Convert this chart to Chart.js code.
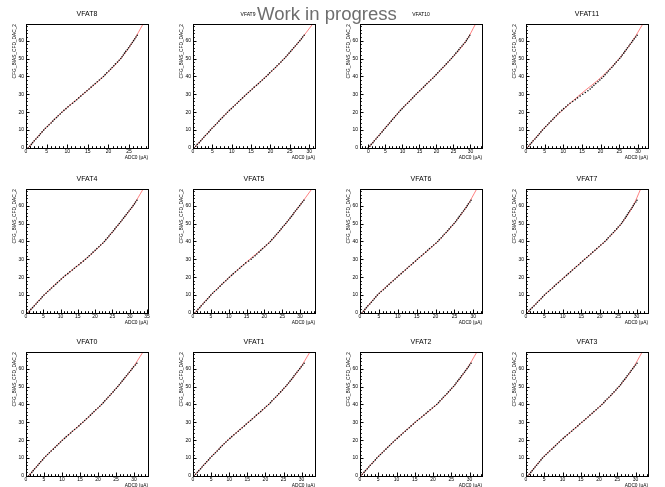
<!DOCTYPE html>
<html>
<head>
<meta charset="utf-8">
<script src="https://cdn.jsdelivr.net/npm/chart.js@4.4.1/dist/chart.umd.min.js"></script>
<style>
  body { margin: 0; background: #fff; width: 665px; height: 487px; position: relative; overflow: hidden; }
  canvas.pad { position: absolute; }
  #wip { position: absolute; left: 257px; top: 0; white-space: nowrap;
         font-family: "Liberation Sans", Arial, sans-serif; font-size: 18px; line-height: 1;
         color: #6e6e6e; z-index: 2; }
</style>
</head>
<body>
<span id="wip">Work in progress</span>
<script>
// DAC code scanned on each VFAT (y axis)
const dacCodes = [0,1,2,3,4,5,6,7,8,9,10,11,12,13,14,15,16,17,18,19,20,21,22,23,24,25,26,27,28,29,30,31,
  32,33,34,35,36,37,38,39,40,41,42,43,44,45,46,47,48,49,50,51,52,53,54,55,56,57,58,59,60,61,62,63];

// measured ADC0 current (uA) for each DAC code
const adcVfat0 = [0.7,1.1,1.6,2.0,2.4,2.9,3.3,3.7,4.1,4.6, 5.0,5.5,6.0,6.5,7.0,7.6,8.1,8.6,9.1,9.6,
  10.1,10.7,11.2,11.8,12.4,12.9,13.5,14.1,14.7,15.2, 15.8,16.3,16.8,17.4,17.9,18.4,18.9,19.4,20.0,20.5,
  21.0,21.5,21.9,22.4,22.8,23.3,23.7,24.2,24.6,25.1, 25.5,25.9,26.3,26.7,27.1,27.5,27.9,28.3,28.7,29.1, 29.5,29.9,30.4,30.8];
const adcVfat1 = [0.3,0.7,1.2,1.6,2.1,2.5,2.9,3.4,3.8,4.3, 4.7,5.2,5.7,6.2,6.7,7.2,7.6,8.1,8.6,9.1,
  9.6,10.2,10.7,11.3,11.9,12.5,13.0,13.6,14.2,14.7, 15.3,15.9,16.4,17.0,17.5,18.1,18.7,19.2,19.8,20.3,
  20.9,21.4,21.8,22.3,22.8,23.3,23.7,24.2,24.7,25.1, 25.6,26.0,26.4,26.8,27.2,27.6,27.9,28.3,28.7,29.1, 29.5,29.9,30.3,30.7];
const adcVfat2 = [0.2,0.6,1.1,1.5,2.0,2.4,2.8,3.3,3.7,4.2, 4.6,5.1,5.6,6.1,6.6,7.1,7.6,8.1,8.6,9.1,
  9.6,10.2,10.7,11.3,11.8,12.4,12.9,13.5,14.0,14.6, 15.1,15.7,16.3,16.9,17.5,18.1,18.6,19.2,19.8,20.4,
  21.0,21.5,21.9,22.4,22.8,23.3,23.8,24.2,24.7,25.1, 25.6,26.0,26.3,26.7,27.1,27.5,27.8,28.2,28.6,28.9, 29.3,29.7,30.0,30.4];
const adcVfat3 = [0.5,0.9,1.3,1.7,2.1,2.5,2.9,3.3,3.7,4.1, 4.5,5.0,5.5,6.0,6.5,7.1,7.6,8.1,8.6,9.1,
  9.6,10.2,10.7,11.3,11.9,12.5,13.0,13.6,14.2,14.7, 15.3,15.9,16.4,17.0,17.5,18.1,18.6,19.2,19.7,20.3,
  20.8,21.3,21.7,22.2,22.7,23.2,23.6,24.1,24.6,25.0, 25.5,25.9,26.2,26.6,27.0,27.4,27.7,28.1,28.5,28.8, 29.2,29.6,30.0,30.4];
const adcVfat4 = [0.5,1.0,1.4,1.9,2.4,2.9,3.3,3.8,4.3,4.7, 5.2,5.8,6.3,6.9,7.4,8.0,8.6,9.1,9.7,10.2,
  10.8,11.4,12.1,12.7,13.4,14.0,14.6,15.3,15.9,16.6, 17.2,17.8,18.3,18.9,19.4,20.0,20.5,21.1,21.6,22.2,
  22.7,23.1,23.6,24.0,24.4,24.9,25.3,25.7,26.1,26.6, 27.0,27.4,27.8,28.2,28.6,29.0,29.4,29.8,30.2,30.6, 31.0,31.4,31.7,32.1];
const adcVfat5 = [0.5,1.0,1.4,1.9,2.3,2.8,3.2,3.7,4.1,4.6, 5.0,5.5,6.0,6.6,7.1,7.6,8.1,8.6,9.2,9.7,
  10.2,10.8,11.3,11.9,12.5,13.1,13.6,14.2,14.8,15.6, 16.3,16.8,17.4,17.9,18.5,19.0,19.5,20.1,20.6,21.2,
  21.7,22.1,22.6,23.0,23.4,23.9,24.3,24.7,25.1,25.6, 26.0,26.4,26.8,27.2,27.6,28.0,28.3,28.7,29.1,29.5, 29.9,30.3,30.7,31.1];
const adcVfat6 = [0.5,0.9,1.3,1.7,2.1,2.6,3.0,3.4,3.8,4.2, 4.6,5.1,5.6,6.2,6.7,7.2,7.7,8.2,8.8,9.3,
  9.8,10.3,10.9,11.4,12.0,12.5,13.0,13.6,14.1,14.7, 15.2,15.7,16.3,16.8,17.4,17.9,18.4,19.0,19.5,20.1,
  20.6,21.0,21.5,21.9,22.3,22.8,23.2,23.6,24.0,24.5, 24.9,25.3,25.6,26.0,26.3,26.7,27.0,27.4,27.7,28.1, 28.4,28.7,29.1,29.4];
const adcVfat7 = [0.3,0.8,1.2,1.7,2.2,2.7,3.1,3.6,4.1,4.5, 5.0,5.5,6.1,6.6,7.2,7.7,8.2,8.8,9.3,9.9,
  10.4,11.0,11.5,12.1,12.6,13.2,13.7,14.3,14.8,15.4, 15.9,16.5,17.0,17.6,18.1,18.7,19.2,19.8,20.3,20.9,
  21.4,21.9,22.3,22.8,23.2,23.7,24.1,24.6,25.0,25.5, 25.9,26.2,26.5,26.9,27.2,27.5,27.8,28.1,28.5,28.8, 29.1,29.4,29.8,30.1];
const adcVfat8 = [0.5,0.9,1.3,1.6,2.0,2.4,2.8,3.2,3.5,3.9, 4.3,4.7,5.2,5.6,6.1,6.5,6.9,7.4,7.8,8.3,
  8.7,9.2,9.7,10.2,10.7,11.3,11.8,12.3,12.8,13.3, 13.8,14.3,14.8,15.3,15.8,16.3,16.8,17.3,17.8,18.3,
  18.8,19.2,19.6,20.1,20.5,20.9,21.3,21.7,22.2,22.6, 23.0,23.3,23.6,23.9,24.2,24.6,24.9,25.2,25.5,25.8, 26.1,26.4,26.7,27.0];
const adcVfat9 = [0.3,0.7,1.1,1.6,2.0,2.4,2.8,3.2,3.7,4.1, 4.5,4.9,5.4,5.8,6.3,6.7,7.1,7.6,8.0,8.5,
  8.9,9.4,9.9,10.4,10.9,11.4,11.8,12.3,12.8,13.3, 13.8,14.3,14.8,15.3,15.8,16.4,16.9,17.4,17.9,18.4,
  18.9,19.4,19.8,20.3,20.8,21.3,21.7,22.2,22.7,23.1, 23.6,24.0,24.4,24.8,25.2,25.6,26.0,26.4,26.8,27.2, 27.6,28.0,28.3,28.7];
const adcVfat10 = [-0.1,0.4,0.8,1.3,1.7,2.2,2.6,3.1,3.5,4.0, 4.4,4.9,5.3,5.8,6.2,6.7,7.1,7.6,8.0,8.5,
  8.9,9.4,9.9,10.4,10.9,11.5,12.0,12.5,13.0,13.5, 14.0,14.5,15.1,15.6,16.2,16.7,17.2,17.8,18.3,18.9,
  19.4,19.9,20.4,20.9,21.4,21.9,22.4,22.9,23.4,23.9, 24.4,24.8,25.3,25.7,26.2,26.6,27.0,27.5,27.9,28.4, 28.8,29.1,29.5,29.8];
const adcVfat11 = [0.3,0.7,1.1,1.5,1.9,2.4,2.8,3.2,3.6,4.0, 4.4,4.9,5.3,5.8,6.2,6.7,7.2,7.6,8.1,8.5,
  9.0,9.6,10.1,10.7,11.2,11.8,12.5,13.2,13.8,14.5, 15.2,15.9,16.6,17.2,17.7,18.2,18.7,19.3,19.8,20.3,
  20.8,21.2,21.7,22.1,22.5,23.0,23.4,23.8,24.2,24.7, 25.1,25.5,25.8,26.2,26.5,26.9,27.2,27.6,27.9,28.3, 28.6,29.0,29.4,29.8];

// fitted curve, read at these DAC values
const fitDac = [0, 10, 20, 30, 40, 50, 60, 69.3];
const fitVfat0 = [0.7, 5.0, 10.1, 15.8, 21.0, 25.5, 29.5, 32.5];
const fitVfat1 = [0.3, 4.7, 9.6, 15.3, 20.9, 25.6, 29.5, 32.3];
const fitVfat2 = [0.2, 4.6, 9.6, 15.1, 21.0, 25.6, 29.3, 32.0];
const fitVfat3 = [0.5, 4.5, 9.6, 15.3, 20.8, 25.5, 29.2, 31.8];
const fitVfat4 = [0.5, 5.2, 10.8, 17.2, 22.7, 27.0, 31.0, 33.9];
const fitVfat5 = [0.5, 5.0, 10.2, 15.9, 21.7, 26.0, 29.9, 33.3];
const fitVfat6 = [0.5, 4.6, 9.8, 15.2, 20.6, 24.9, 28.4, 30.9];
const fitVfat7 = [0.3, 5.0, 10.4, 15.9, 21.4, 25.9, 29.1, 31.1];
const fitVfat8 = [0.5, 4.3, 8.7, 13.8, 18.8, 23.0, 26.1, 28.4];
const fitVfat9 = [0.3, 4.5, 8.9, 13.8, 18.9, 23.6, 27.6, 30.9];
const fitVfat10 = [-0.1, 4.4, 8.9, 14.0, 19.4, 24.4, 28.8, 31.5];
const fitVfat11 = [0.3, 4.4, 9.2, 14.6, 20.4, 25.0, 28.6, 31.3];

// axis ranges per VFAT
const xMinByVfat = [0, 0, 0, 0, 0, 0, 0, 0, 0, 0, -2.5, 0];
const xMaxByVfat = [33.9, 33.7, 33.4, 33.4, 35.3, 34.2, 32.3, 33.1, 29.6, 31.5, 33.4, 32.7];
const yMax = 69.3;

const adcByVfat = [adcVfat0, adcVfat1, adcVfat2, adcVfat3, adcVfat4, adcVfat5,
  adcVfat6, adcVfat7, adcVfat8, adcVfat9, adcVfat10, adcVfat11];
const fitByVfat = [fitVfat0, fitVfat1, fitVfat2, fitVfat3, fitVfat4, fitVfat5,
  fitVfat6, fitVfat7, fitVfat8, fitVfat9, fitVfat10, fitVfat11];

// canvas layout: 4 columns x 3 rows, like the ROOT canvas
const gridOrder = [8, 9, 10, 11, 4, 5, 6, 7, 0, 1, 2, 3];
const frameLefts = [26, 193, 360, 526];
const frameTops = [24, 189, 352];
const FONT = '"Liberation Sans", Arial, sans-serif';

// the two titles squeezed by the "Work in progress" label are drawn smaller in the original
const smallTitle = { 9: { size: 5, shift: -6 }, 10: { size: 5, shift: 0 } };

// ROOT style frame + inward tick marks (major and minor)
const rootFrame = {
  id: 'rootFrame',
  afterLayout(chart) {
    const t = smallTitle[chart.options.vfat];
    if (t && chart.titleBlock) {
      chart.titleBlock.left += t.shift;
      chart.titleBlock.right += t.shift;
    }
  },
  afterDatasetsDraw(chart) {
    const { ctx, chartArea: a, scales: { x, y } } = chart;
    ctx.save();
    ctx.strokeStyle = '#000';
    ctx.lineWidth = 1;
    ctx.beginPath();
    for (let v = Math.ceil(x.min); v <= x.max; v += 1) {
      const px = Math.round(x.getPixelForValue(v)) + 0.5;
      const len = v % 5 === 0 ? 3.5 : 1.8;
      ctx.moveTo(px, a.bottom);
      ctx.lineTo(px, a.bottom - len);
    }
    for (let v = 0; v <= y.max; v += 2) {
      const py = Math.round(y.getPixelForValue(v)) + 0.5;
      const len = v % 10 === 0 ? 3.5 : 1.8;
      ctx.moveTo(a.left, py);
      ctx.lineTo(a.left + len, py);
    }
    ctx.stroke();
    ctx.strokeRect(a.left + 0.5, a.top + 0.5, a.right - a.left, a.bottom - a.top);
    ctx.restore();
  }
};

const noGrid = { display: false, drawTicks: false, tickLength: 0 };

gridOrder.forEach((vfat, pos) => {
  const col = pos % 4, row = Math.floor(pos / 4);
  const canvas = document.createElement('canvas');
  canvas.className = 'pad';
  canvas.width = 166;
  canvas.height = 162;
  canvas.style.left = (frameLefts[col] - 26) + 'px';
  canvas.style.top = (frameTops[row] - 24) + 'px';
  document.body.appendChild(canvas);

  const adc = adcByVfat[vfat];
  const fit = fitByVfat[vfat];
  const titleSize = smallTitle[vfat] ? smallTitle[vfat].size : 7;
  const titleLine = titleSize * 1.2;

  new Chart(canvas, {
    type: 'scatter',
    data: {
      datasets: [
        {
          data: dacCodes.map((d, i) => ({ x: adc[i], y: d })),
          pointRadius: 0.8,
          pointBackgroundColor: '#111',
          pointBorderWidth: 0,
          showLine: false
        },
        {
          data: fitDac.map((d, i) => ({ x: fit[i], y: d })),
          showLine: true,
          borderColor: 'rgba(255,0,0,0.5)',
          borderWidth: 1,
          pointRadius: 0,
          cubicInterpolationMode: 'monotone',
          clip: 0
        }
      ]
    },
    options: {
      vfat: vfat,
      responsive: false,
      animation: false,
      devicePixelRatio: 1,
      layout: { padding: { left: 0, right: 18, top: 0, bottom: 0 } },
      plugins: {
        legend: { display: false },
        tooltip: { enabled: false },
        title: {
          display: true,
          fullSize: false,
          text: 'VFAT' + vfat,
          color: '#000',
          font: { family: FONT, size: titleSize, weight: 'normal' },
          padding: { top: 14.5 - titleLine / 2, bottom: 9.5 - titleLine / 2 }
        }
      },
      scales: {
        x: {
          type: 'linear',
          min: xMinByVfat[vfat],
          max: xMaxByVfat[vfat],
          afterFit: s => { s.height = 14; },
          grid: noGrid,
          border: { display: false },
          ticks: { stepSize: 5, includeBounds: false, autoSkip: false, maxRotation: 0,
                   padding: 1, color: '#000', font: { family: FONT, size: 5 } },
          title: { display: true, text: 'ADC0 (μA)', align: 'end', color: '#000',
                   font: { family: FONT, size: 4.8 }, padding: { top: 0, bottom: 1.6 } }
        },
        y: {
          type: 'linear',
          min: 0,
          max: yMax,
          afterFit: s => { s.width = 26; },
          grid: noGrid,
          border: { display: false },
          ticks: { stepSize: 10, includeBounds: false, autoSkip: false,
                   padding: 2, color: '#000', font: { family: FONT, size: 5 } },
          title: { display: true, text: 'CFG_BIAS_CFD_DAC_2', align: 'end', color: '#000',
                   font: { family: FONT, size: 4.8 }, padding: { top: 12.1, bottom: 0 } }
        }
      }
    },
    plugins: [rootFrame]
  });
});

// size the overlay label to the width it has on the original canvas
const wip = document.getElementById('wip');
const wipSize = 18 * 140 / wip.getBoundingClientRect().width;
wip.style.fontSize = wipSize + 'px';
wip.style.top = (19.5 - 0.805 * wipSize) + 'px';
</script>
</body>
</html>
